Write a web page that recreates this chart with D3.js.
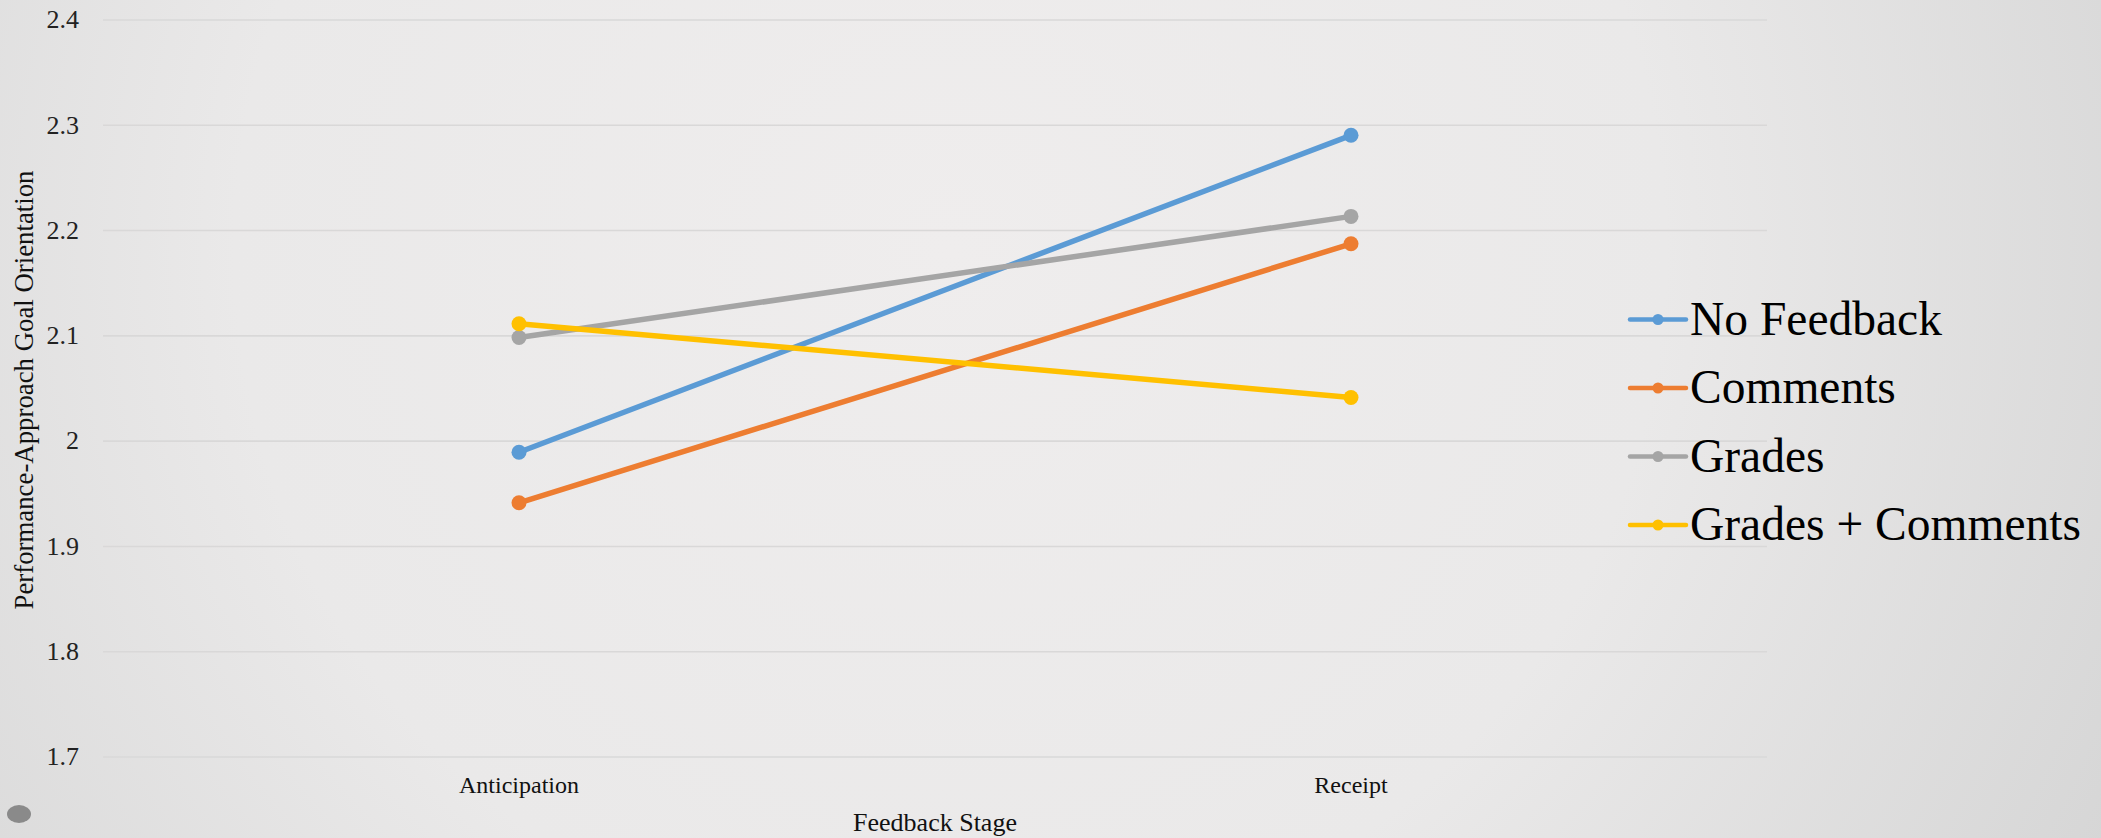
<!DOCTYPE html>
<html>
<head>
<meta charset="utf-8">
<script src="https://cdn.jsdelivr.net/npm/d3@7"></script>
<style>
  html, body { margin: 0; padding: 0; overflow: hidden; }
  svg { display: block; }
</style>
</head>
<body>
<script>
// Feedback stages along the x axis
const stages = ["Anticipation", "Receipt"];
// Group names (legend order)
const groups = ["No Feedback", "Comments", "Grades", "Grades + Comments"];
// Mean performance-approach goal orientation per group, per stage
const noFeedback = [1.989, 2.290];
const comments = [1.941, 2.187];
const grades = [2.098, 2.213];
const gradesComments = [2.111, 2.041];
// Y axis ticks
const yTicks = [1.7, 1.8, 1.9, 2.0, 2.1, 2.2, 2.3, 2.4];

const seriesValues = [noFeedback, comments, grades, gradesComments];
const colors = ["#5B9BD5", "#ED7D31", "#A5A5A5", "#FFC000"];

const W = 2101, H = 838;
const plot = { left: 103, right: 1767, top: 19.5, bottom: 756.5 };
const serif = "'Liberation Serif', 'Times New Roman', serif";

const svg = d3.select("body").append("svg")
  .attr("width", W).attr("height", H);

// soft slide-style background
const defs = svg.append("defs");
const grad = defs.append("radialGradient")
  .attr("id", "bg").attr("gradientUnits", "userSpaceOnUse")
  .attr("cx", 950).attr("cy", 250).attr("r", 1300);
grad.append("stop").attr("offset", "0%").attr("stop-color", "#efeded");
grad.append("stop").attr("offset", "55%").attr("stop-color", "#eae9e9");
grad.append("stop").attr("offset", "100%").attr("stop-color", "#d6d6d6");
svg.append("rect").attr("width", W).attr("height", H).attr("fill", "url(#bg)");

// small decorative ellipse in the lower-left corner
svg.append("ellipse").attr("cx", 19).attr("cy", 814).attr("rx", 12).attr("ry", 9)
  .attr("fill", "#8a8a8a");

const x = d3.scaleBand().domain(stages).range([plot.left, plot.right]).padding(0);
const xc = d => x(d) + x.bandwidth() / 2;
const y = d3.scaleLinear().domain([1.7, 2.4]).range([plot.bottom, plot.top]);

// gridlines
const grid = svg.append("g").attr("transform", `translate(${plot.left},0)`)
  .call(d3.axisLeft(y).tickValues(yTicks).tickSize(-(plot.right - plot.left)).tickFormat(""));
grid.select(".domain").remove();
grid.selectAll("line").attr("stroke", "#d9d8d8").attr("stroke-width", 1.6);

// y axis labels
const yAxis = svg.append("g").attr("transform", `translate(${plot.left},0)`)
  .call(d3.axisLeft(y).tickValues(yTicks).tickSize(0).tickPadding(24).tickFormat(d3.format("~g")));
yAxis.select(".domain").remove();
yAxis.selectAll("text").attr("font-family", serif).attr("font-size", 26).attr("fill", "#222");

// x axis labels
const xAxis = svg.append("g").attr("transform", `translate(0,${plot.bottom})`)
  .call(d3.axisBottom(x).tickSize(0).tickPadding(19.5));
xAxis.select(".domain").remove();
xAxis.selectAll("text").attr("font-family", serif).attr("font-size", 24).attr("fill", "#111");

// axis titles
svg.append("text").attr("x", (plot.left + plot.right) / 2).attr("y", 831)
  .attr("text-anchor", "middle").attr("font-family", serif).attr("font-size", 26)
  .attr("fill", "#111").text("Feedback Stage");
svg.append("text")
  .attr("transform", `translate(33,${(plot.top + plot.bottom) / 2 + 2}) rotate(-90)`)
  .attr("text-anchor", "middle").attr("font-family", serif).attr("font-size", 26.8)
  .attr("fill", "#111").text("Performance-Approach Goal Orientation");

// series lines and markers
const line = d3.line().x((d, i) => xc(stages[i])).y(d => y(d));
seriesValues.forEach((vals, k) => {
  const g = svg.append("g");
  g.append("path").datum(vals).attr("d", line)
    .attr("fill", "none").attr("stroke", colors[k]).attr("stroke-width", 5.5)
    .attr("stroke-linecap", "round");
  g.selectAll("circle").data(vals).join("circle")
    .attr("cx", (d, i) => xc(stages[i])).attr("cy", d => y(d)).attr("r", 7.5)
    .attr("fill", colors[k]);
});

// legend
const legend = svg.append("g").attr("transform", "translate(1630,319.5)");
groups.forEach((name, k) => {
  const row = legend.append("g").attr("transform", `translate(0,${k * 68.5})`);
  row.append("line").attr("x1", 0).attr("x2", 56).attr("y1", 0).attr("y2", 0)
    .attr("stroke", colors[k]).attr("stroke-width", 4.5).attr("stroke-linecap", "round");
  row.append("circle").attr("cx", 28).attr("cy", 0).attr("r", 5.5).attr("fill", colors[k]);
  row.append("text").attr("x", 60).attr("y", 15)
    .attr("font-family", serif).attr("font-size", 47.5).attr("fill", "#000").text(name);
});
</script>
</body>
</html>
